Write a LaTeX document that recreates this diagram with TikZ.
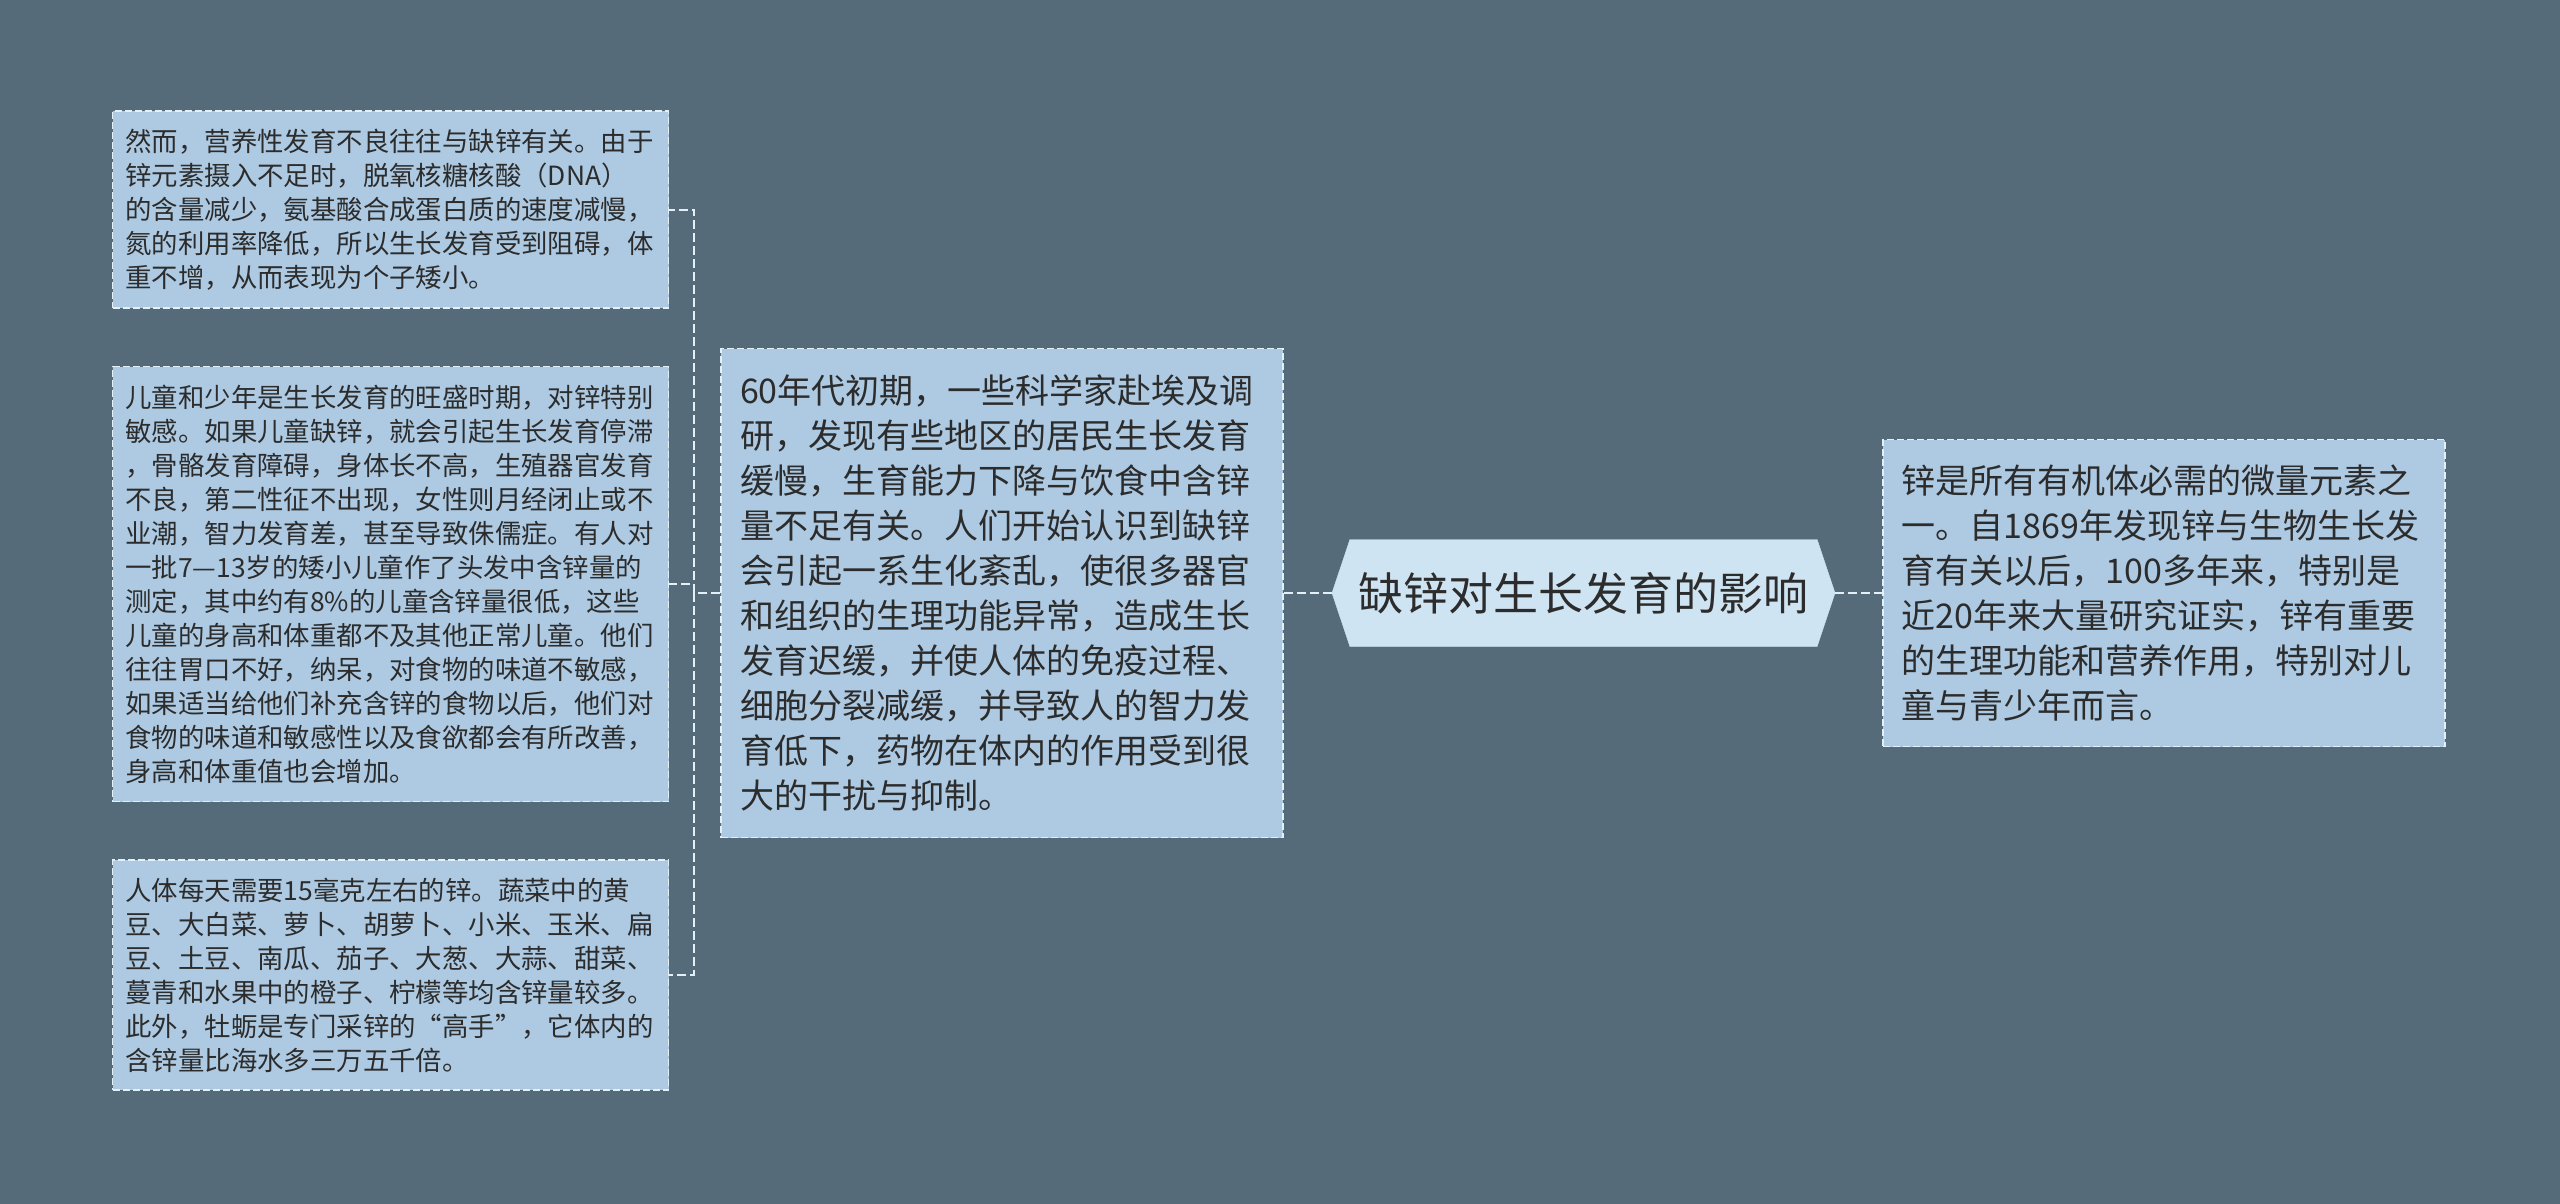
\documentclass[tikz,border=0pt]{standalone}
\usepackage{fontspec}
\newfontfamily\cjk{Noto Sans CJK SC}
\usetikzlibrary{positioning,shapes.symbols}

\definecolor{bgcol}{HTML}{566B7A}
\definecolor{leafcol}{HTML}{ADCAE2}
\definecolor{rootcol}{HTML}{CFE4F2}
\definecolor{linecol}{HTML}{E4F0F8}
\definecolor{txtcol}{HTML}{2C2C2C}

\tikzset{
  leaf/.style={draw=linecol, fill=leafcol, line width=1.5pt, dash pattern=on 7pt off 3pt, text=txtcol, align=left},
  small/.style={leaf, text width=530pt, inner xsep=13pt, font=\cjk\fontsize{26.4}{34}\selectfont},
  big/.style={leaf, text width=524pt, inner xsep=19pt, font=\cjk\fontsize{34}{45}\selectfont},
  link/.style={draw=linecol, line width=2pt, dash pattern=on 9pt off 4pt}
}

\begin{document}
\begin{tikzpicture}[x=1pt, y=1pt]

  \fill [bgcol] (0,0) rectangle (2560,-1204);

  \node (root) [signal, signal to=west and east, signal pointer angle=143, fill=rootcol, draw=rootcol, text=txtcol, minimum width=503pt, minimum height=107pt, font=\cjk\fontsize{45}{54}\selectfont] at (1583.5,-593) {缺锌对生长发育的影响};

  \node (cause) [big, left=48pt of root, minimum height=489pt] {60年代初期，一些科学家赴埃及调\\研，发现有些地区的居民生长发育\\缓慢，生育能力下降与饮食中含锌\\量不足有关。人们开始认识到缺锌\\会引起一系生化紊乱，使很多器官\\和组织的生理功能异常，造成生长\\发育迟缓，并使人体的免疫过程、\\细胞分裂减缓，并导致人的智力发\\育低下，药物在体内的作用受到很\\大的干扰与抑制。};
  \node (role) [big, right=47pt of root, minimum height=307pt] {锌是所有有机体必需的微量元素之\\一。自1869年发现锌与生物生长发\\育有关以后，100多年来，特别是\\近20年来大量研究证实，锌有重要\\的生理功能和营养作用，特别对儿\\童与青少年而言。};

  \node (child) [small, left=51pt of cause, yshift=9pt, minimum height=435pt] {儿童和少年是生长发育的旺盛时期，对锌特别\\敏感。如果儿童缺锌，就会引起生长发育停滞\\，骨骼发育障碍，身体长不高，生殖器官发育\\不良，第二性征不出现，女性则月经闭止或不\\业潮，智力发育差，甚至导致侏儒症。有人对\\一批7—13岁的矮小儿童作了头发中含锌量的\\测定，其中约有8\%的儿童含锌量很低，这些\\儿童的身高和体重都不及其他正常儿童。他们\\往往胃口不好，纳呆，对食物的味道不敏感，\\如果适当给他们补充含锌的食物以后，他们对\\食物的味道和敏感性以及食欲都会有所改善，\\身高和体重值也会增加。};
  \node (short) [small, above=57pt of child, minimum height=197pt] {然而，营养性发育不良往往与缺锌有关。由于\\锌元素摄入不足时，脱氧核糖核酸（DNA）\\的含量减少，氨基酸合成蛋白质的速度减慢，\\氮的利用率降低，所以生长发育受到阻碍，体\\重不增，从而表现为个子矮小。};
  \node (food) [small, below=57pt of child, minimum height=230pt] {人体每天需要15毫克左右的锌。蔬菜中的黄\\豆、大白菜、萝卜、胡萝卜、小米、玉米、扁\\豆、土豆、南瓜、茄子、大葱、大蒜、甜菜、\\蔓青和水果中的橙子、柠檬等均含锌量较多。\\此外，牡蛎是专门采锌的“高手”，它体内的\\含锌量比海水多三万五千倍。};

  \draw [link] (root.west) -- (cause.east);
  \draw [link] (root.east) -- (role.west);
  \draw [link] (cause.west) -- ++(-26,0) |- (short.east);
  \draw [link] (cause.west) -- ++(-26,0) |- (child.east);
  \draw [link] (cause.west) -- ++(-26,0) |- (food.east);

\end{tikzpicture}
\end{document}
